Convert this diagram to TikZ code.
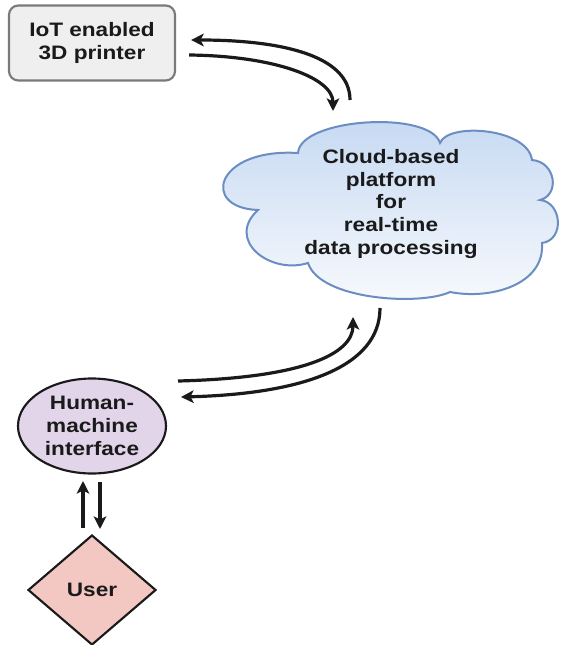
\documentclass[tikz,border=0pt]{standalone}
\usepackage{fontspec}
\setmainfont{Liberation Sans}[FakeStretch=1.16]
\usetikzlibrary{shapes.geometric,arrows.meta,calc}
\definecolor{boxfill}{HTML}{EFEFEF}
\definecolor{boxline}{HTML}{7A7A7A}
\definecolor{cloudline}{HTML}{6A8DC2}
\definecolor{cloudtop}{HTML}{C4D8F2}
\definecolor{cloudbot}{HTML}{F8FAFD}
\definecolor{hmifill}{HTML}{E2D5EA}
\definecolor{userfill}{HTML}{F4C8C2}
\definecolor{ink}{HTML}{1A1A1A}
\tikzset{
  label text/.style={font=\bfseries\fontsize{14.6pt}{17.2pt}\selectfont, text=ink, align=center},
  flow/.style={line width=2.4pt, draw=ink, -{Stealth[length=9.5pt,width=9.5pt,inset=2.4pt]}},
}
\begin{document}
\begin{tikzpicture}[x=0.75pt,y=-0.75pt]
  \useasboundingbox (0,0) rectangle (560,645);

  % IoT device box
  \node[label text, draw=boxline, fill=boxfill, line width=1.6pt, rounded corners=7pt,
        minimum width=166*0.75pt, minimum height=75*0.75pt, inner sep=0pt]
        (printer) at (92,43) {IoT enabled\\3D printer};

  % cloud outline, puff by puff
  \path[draw=cloudline, line width=1.5pt, top color=cloudtop, bottom color=cloudbot]
    (298,153) .. controls (300,118) and (430,110) .. (440,143)
              .. controls (448,122) and (528,128) .. (532,160)
              .. controls (556,162) and (560,195) .. (540,200)
              .. controls (562,202) and (565,240) .. (542,243)
              .. controls (545,285) and (490,300) .. (450,292)
              .. controls (420,306) and (320,300) .. (308,263)
              .. controls (270,275) and (225,240) .. (258,210)
              .. controls (200,208) and (215,148) .. (298,153) -- cycle;
  \node[label text] (cloud) at (391,204) {Cloud-based\\platform\\for\\real-time\\data processing};

  % human-machine interface
  \node[ellipse, draw=ink, line width=1.6pt, fill=hmifill, label text,
        minimum width=148*0.75pt, minimum height=95*0.75pt, inner sep=0pt]
        (hmi) at (92,426) {Human-\\machine\\interface};

  % user
  \node[diamond, draw=ink, line width=1.6pt, fill=userfill, label text,
        minimum width=128*0.75pt, minimum height=110*0.75pt, inner sep=0pt, aspect=1.16]
        (user) at (92,590) {User};

  % ends of the connectors
  \coordinate (pOutTop) at ($(printer.east)+(15,-3)$);
  \coordinate (pInBot) at ($(printer.east)+(13,12)$);
  \coordinate (cTopOut) at (350,100);
  \coordinate (cTopIn) at (333,111);
  \coordinate (cBotIn) at (353,317);
  \coordinate (cBotOut) at (380,308);
  \coordinate (hOut) at (178,381);
  \coordinate (hIn) at (181,397);
  \coordinate (uUpS) at (83,528);
  \coordinate (uUpE) at (83,481);
  \coordinate (uDnS) at (100,482);
  \coordinate (uDnE) at (100,529);

  % printer <-> cloud
  \draw[flow] (cTopOut) .. controls (350,55) and (280,40) .. (pOutTop);
  \draw[flow] (pInBot) .. controls (275,56) and (333,78) .. (cTopIn);

  % interface <-> cloud
  \draw[flow] (hOut) .. controls (300,378) and (353,355) .. (cBotIn);
  \draw[flow] (cBotOut) .. controls (380,368) and (300,394) .. (hIn);

  % user <-> interface
  \draw[flow] (uUpS) -- (uUpE);
  \draw[flow] (uDnS) -- (uDnE);
\end{tikzpicture}
\end{document}
